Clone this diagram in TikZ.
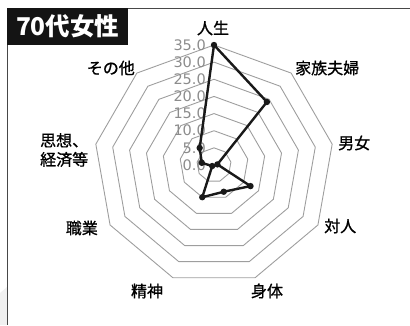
\documentclass[tikz,border=0pt]{standalone}
\usepackage{fontspec}
\setmainfont{Noto Sans CJK JP}
\newfontfamily\labfont[FakeBold=0.9]{Noto Sans CJK JP}
\newfontfamily\numfont{DejaVu Sans}
\usetikzlibrary{calc}
\tikzset{%
  ringline/.style={draw=black!38,line width=0.9pt,line join=round},
  dataline/.style={draw=black!90,line width=2.4pt,line join=round},
  axislabel/.style={inner sep=0pt,font=\labfont\fontsize{16}{19}\selectfont},
  scalelabel/.style={inner sep=0pt,anchor=east,text=black!45,
    font=\numfont\fontsize{14.5}{16}\selectfont},
  frameline/.style={draw=black!72,line width=1.6pt}}
\def\k{3.4286}
\begin{document}
\begin{tikzpicture}[x=1pt,y=1pt]
  \useasboundingbox (-214,-160) rectangle (196,165);
  % scan shadow and frame
  \fill[black!6] (-214,-128) -- (-207,-122) -- (-207,-160) -- (-214,-160) -- cycle;
  \draw[frameline] (196,156.5) -- (-206.5,156.5) -- (-206.5,-160);
  \node[fill=black!92,anchor=north west,minimum width=121pt,minimum height=37pt,
    inner sep=0pt,text=white,font=\bfseries\fontsize{24.5}{26}\selectfont]
    (title) at (-207,157.3) {70代女性};
  % rings
  \foreach \r in {5,10,...,35} {
    \draw[ringline] (90:{\r*\k}) \foreach \a in {130,170,...,410} {-- ({\a}:{\r*\k})} -- cycle;
  }
  % scale
  \foreach \r in {0,5,...,35}
    \node[scalelabel] (s\r) at (-8,{\r*\k}) {\r.0};
  % axis labels
  \node[axislabel] (jinsei) at (-1,137) {人生};
  \node[axislabel,anchor=west] (kazoku) at (81,97) {家族夫婦};
  \node[axislabel,anchor=west] (danjo) at (124,22) {男女};
  \node[axislabel,anchor=west] (taijin) at (110,-61) {対人};
  \node[axislabel] (shintai) at (53,-126) {身体};
  \node[axislabel] (seishin) at (-67,-126) {精神};
  \node[axislabel,anchor=east] (shokugyo) at (-116,-63) {職業};
  \node[axislabel,anchor=west,align=left] (shiso) at (-174,15) {思想、\\経済等};
  \node[axislabel,anchor=east] (sonota) at (-79,97) {その他};
  % data
  \foreach \a/\v [count=\i] in {90/35,50/24,10/1,-30/12.3,-70/8.3,-110/10,-150/0.6,170/3.6,130/6.5}
    \coordinate (d\i) at ({\a}:{\v*\k});
  \draw[dataline] (d1) -- (d2) -- (d3) -- (d4) -- (d5) -- (d6) -- (d7) -- (d8) -- (d9) -- cycle;
  \foreach \i in {1,...,9} \fill[black!90] (d\i) circle (3.2);
\end{tikzpicture}
\end{document}
